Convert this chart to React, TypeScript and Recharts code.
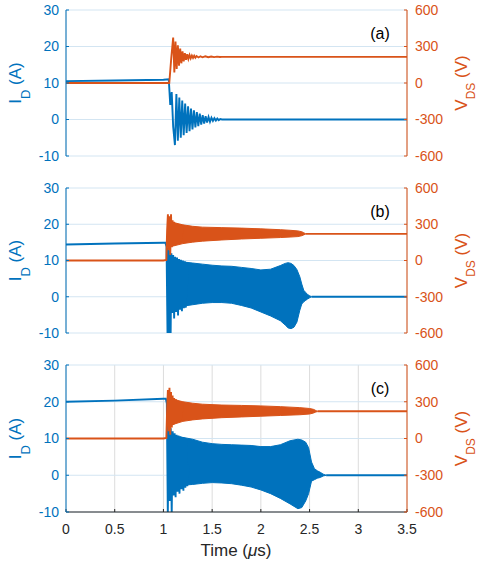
import React from 'react';
import { ComposedChart, Line, Area, XAxis, YAxis, CartesianGrid } from 'recharts';

const BLUE = '#0072BD';
const ORANGE = '#D95319';
const AXIS = '#262626';
const FONT = '"Liberation Sans", Arial, Helvetica, sans-serif';

const timeTicks = [0, 0.5, 1, 1.5, 2, 2.5, 3, 3.5];
const currentTicks = [-10, 0, 10, 20, 30];
const voltageTicks = [-600, -300, 0, 300, 600];

// (a) drain current, A
const aCurT = [0, 0.5, 1.0, 1.055, 1.07, 1.085, 1.10, 1.118, 1.133, 1.148, 1.163, 1.178, 1.193, 1.208, 1.223, 1.238, 1.253, 1.268, 1.283, 1.298, 1.313, 1.328, 1.343, 1.358, 1.373, 1.388, 1.403, 1.418, 1.433, 1.448, 1.463, 1.478, 1.493, 1.508, 1.523, 1.538, 1.553, 1.568, 1.583, 1.6, 3.5];
const aCurV = [10.5, 10.7, 10.9, 11.0, 4.0, 7.5, -2.0, -7.0, 7.0, -5.8, 6.0, -5.0, 5.2, -4.3, 4.4, -3.7, 3.6, -3.2, 3.0, -2.7, 2.5, -2.2, 2.0, -1.8, 1.6, -1.4, 1.2, -1.1, 0.9, -0.8, 0.7, -0.6, 0.5, -0.4, 0.35, -0.3, 0.25, -0.2, 0.15, 0, 0];
// (a) drain-source voltage, V
const aVoltT = [0, 1.06, 1.08, 1.10, 1.112, 1.124, 1.136, 1.148, 1.160, 1.172, 1.184, 1.196, 1.208, 1.220, 1.232, 1.244, 1.256, 1.268, 1.28, 1.292, 1.304, 1.316, 1.328, 1.34, 1.36, 1.38, 1.40, 1.43, 1.46, 1.49, 1.52, 1.55, 1.58, 1.6, 3.5];
const aVoltV = [0, 0, 200, 373, 87, 340, 115, 310, 142, 282, 162, 260, 178, 245, 190, 236, 198, 230, 203, 226, 206, 224, 208, 222, 210, 220, 211, 219, 212, 218, 213, 217, 214, 215, 215];

// (b)
const bCurT = [0, 0.5, 1.0, 1.02, 1.032, 1.042, 1.05, 1.058, 1.066, 1.074, 1.082, 1.09, 1.1, 1.11, 1.12, 1.13, 1.14, 1.15, 1.16, 1.17, 1.18, 1.19, 1.2, 1.21, 1.22, 1.23, 1.24, 1.25];
const bCurV = [14.4, 14.7, 14.9, 14.9, 13.8, -10.5, 13.5, -10.5, 12.8, -10.5, 12.0, -4.5, 11.5, -6.0, 11.0, -4.2, 10.8, -5.2, 10.4, -3.6, 10.2, -4.0, 10.0, -3.2, 9.8, -3.0, 9.6, 3.0];
const bBandT = [1.04, 1.1, 1.2, 1.3, 1.4, 1.5, 1.6, 1.7, 1.8, 1.9, 2.0, 2.1, 2.2, 2.25, 2.28, 2.31, 2.34, 2.37, 2.40, 2.42, 2.44, 2.46, 2.48, 2.5, 2.52];
const bBandHi = [10.0, 10.0, 9.6, 9.3, 9.0, 8.7, 8.5, 8.4, 8.1, 7.8, 7.4, 7.6, 8.6, 9.2, 9.4, 9.2, 8.6, 7.5, 5.5, 3.5, 1.8, 1.2, 0.6, 0.3, 0];
const bBandLo = [-2.5, -2.8, -2.6, -2.2, -1.8, -1.6, -1.6, -1.8, -2.4, -3.1, -4.2, -5.3, -6.6, -7.8, -8.6, -8.8, -8.4, -7.0, -3.7, -2.0, -1.4, -1.0, -0.6, -0.3, 0];
const bTailT = [2.52, 3.5];
const bTailV = [0, 0];
const bVoltT = [0, 1.0, 1.03, 1.038, 1.046, 1.054, 1.062, 1.07, 1.078, 1.086, 1.094, 1.102, 1.11, 1.12, 1.13, 1.14, 1.15, 1.16, 1.17, 1.18, 1.19, 1.2];
const bVoltV = [0, 0, 5, 250, 382, 85, 366, 45, 382, 110, 333, 120, 320, 135, 305, 140, 300, 150, 295, 155, 290, 220];
const bVBandT = [1.05, 1.1, 1.2, 1.3, 1.4, 1.6, 1.8, 2.0, 2.2, 2.3, 2.38, 2.42, 2.44, 2.46];
const bVBandHi = [330, 315, 295, 283, 276, 272, 268, 262, 255, 250, 245, 238, 230, 221];
const bVBandLo = [110, 120, 140, 152, 160, 170, 178, 184, 190, 194, 198, 205, 212, 219];
const bVTailT = [2.46, 3.5];
const bVTailV = [220, 220];

// (c)
const cCurT = [0, 0.5, 1.0, 1.025, 1.035, 1.045, 1.055, 1.065, 1.075, 1.085, 1.095, 1.105, 1.115, 1.125, 1.135, 1.145, 1.155, 1.165, 1.175, 1.185, 1.195, 1.205, 1.215, 1.225, 1.235, 1.245, 1.26];
const cCurV = [20.0, 20.3, 20.8, 20.8, 19.5, -10.5, 14.5, -7.0, 12.8, -10.5, 12.0, -5.5, 11.4, -6.0, 11.0, -4.5, 10.8, -5.0, 10.6, -3.8, 10.4, -4.2, 10.2, -3.4, 10.0, -3.0, 3.0];
const cBandT = [1.04, 1.1, 1.2, 1.3, 1.4, 1.5, 1.6, 1.7, 1.8, 1.9, 2.0, 2.1, 2.2, 2.3, 2.38, 2.42, 2.46, 2.49, 2.52, 2.55, 2.58, 2.61, 2.64, 2.67];
const cBandHi = [10.5, 10.5, 10.3, 9.8, 9.0, 8.6, 8.4, 8.3, 8.2, 8.1, 7.8, 7.8, 8.3, 9.4, 9.8, 9.6, 9.0, 7.5, 3.6, 1.8, 1.2, 0.8, 0.3, 0];
const cBandLo = [-2.5, -2.7, -2.7, -2.5, -2.2, -2.0, -2.1, -2.3, -2.7, -3.2, -4.0, -5.0, -6.3, -7.8, -9.1, -8.8, -7.0, -5.0, -1.6, -1.2, -0.8, -0.6, -0.2, 0];
const cTailT = [2.67, 3.5];
const cTailV = [0, 0];
const cVoltT = [0, 1.0, 1.03, 1.038, 1.046, 1.054, 1.062, 1.07, 1.078, 1.086, 1.094, 1.102, 1.11, 1.12, 1.13, 1.14, 1.15, 1.16, 1.17, 1.18, 1.19, 1.2];
const cVoltV = [0, 0, 5, 240, 395, 60, 414, 30, 380, 90, 350, 110, 330, 125, 320, 135, 305, 145, 300, 150, 295, 220];
const cVBandT = [1.05, 1.1, 1.2, 1.3, 1.4, 1.6, 1.8, 2.0, 2.2, 2.4, 2.5, 2.54, 2.56, 2.58];
const cVBandHi = [340, 320, 300, 288, 280, 273, 270, 266, 260, 252, 245, 238, 230, 222];
const cVBandLo = [100, 115, 140, 152, 160, 170, 176, 182, 188, 194, 200, 208, 215, 220];
const cVTailT = [2.58, 3.5];
const cVTailV = [222, 222];

const zip = (ts: number[], vs: number[]) => ts.map((t, i) => ({ t, v: vs[i] }));
const zipBand = (ts: number[], lo: number[], hi: number[]) => ts.map((t, i) => ({ t, r: [lo[i], hi[i]] }));

const panels = [
  {
    tag: '(a)', top: 10, plotH: 146,
    cur: zip(aCurT, aCurV), curBand: null, curTail: null,
    volt: zip(aVoltT, aVoltV), voltBand: null, voltTail: null,
  },
  {
    tag: '(b)', top: 188, plotH: 145,
    cur: zip(bCurT, bCurV), curBand: zipBand(bBandT, bBandLo, bBandHi), curTail: zip(bTailT, bTailV),
    volt: zip(bVoltT, bVoltV), voltBand: zipBand(bVBandT, bVBandLo, bVBandHi), voltTail: zip(bVTailT, bVTailV),
  },
  {
    tag: '(c)', top: 365, plotH: 147,
    cur: zip(cCurT, cCurV), curBand: zipBand(cBandT, cBandLo, cBandHi), curTail: zip(cTailT, cTailV),
    volt: zip(cVoltT, cVoltV), voltBand: zipBand(cVBandT, cVBandLo, cVBandHi), voltTail: zip(cVTailT, cVTailV),
  },
];

function Panel({ p, last }: { p: any; last: boolean }) {
  const mTop = 10;
  const axisH = last ? 32 : 0;
  const mBottom = last ? 0 : 10;
  const tickFont = { fontSize: 14, fontFamily: FONT };
  return (
    <div style={{ position: 'absolute', left: 0, top: p.top - mTop }}>
      <ComposedChart
        width={478}
        height={mTop + p.plotH + axisH + mBottom}
        margin={{ top: mTop, right: 0, bottom: mBottom, left: 0 }}
      >
        <CartesianGrid xAxisId="x" yAxisId="L" horizontal={false} stroke="#dcdcdc" />
        <CartesianGrid xAxisId="x" yAxisId="L" vertical={false} stroke="#d3e5f2" />
        <XAxis
          xAxisId="x"
          dataKey="t"
          type="number"
          domain={[0, 3.5]}
          ticks={timeTicks}
          allowDataOverflow
          height={axisH}
          stroke={AXIS}
          tickSize={-3}
          tickMargin={15}
          tick={last ? { ...tickFont, fill: AXIS } : false}
          tickLine={{ stroke: AXIS }}
          axisLine={{ stroke: AXIS }}
        />
        <XAxis
          xAxisId="top"
          orientation="top"
          type="number"
          domain={[0, 3.5]}
          ticks={timeTicks}
          height={0}
          tickSize={-3}
          tickFormatter={() => ''}
          tickLine={{ stroke: AXIS }}
          axisLine={{ stroke: AXIS }}
        />
        <YAxis
          yAxisId="L"
          type="number"
          domain={[-10, 30]}
          ticks={currentTicks}
          allowDataOverflow
          width={66}
          tickSize={-3}
          tickMargin={10}
          tick={{ ...tickFont, fill: BLUE }}
          tickLine={{ stroke: BLUE }}
          axisLine={{ stroke: BLUE }}
        />
        <YAxis
          yAxisId="R"
          orientation="right"
          type="number"
          domain={[-600, 600]}
          ticks={voltageTicks}
          allowDataOverflow
          width={71}
          tickSize={-3}
          tickMargin={11}
          tick={{ ...tickFont, fill: ORANGE }}
          tickLine={{ stroke: ORANGE }}
          axisLine={{ stroke: ORANGE }}
        />
        {p.curBand && (
          <Area xAxisId="x" yAxisId="L" data={p.curBand} dataKey="r" type="linear"
            stroke={BLUE} strokeWidth={1} fill={BLUE} fillOpacity={1} isAnimationActive={false} />
        )}
        <Line xAxisId="x" yAxisId="L" data={p.cur} dataKey="v" type="linear"
          stroke={BLUE} strokeWidth={1.9} dot={false} isAnimationActive={false} />
        {p.curTail && (
          <Line xAxisId="x" yAxisId="L" data={p.curTail} dataKey="v" type="linear"
            stroke={BLUE} strokeWidth={1.9} dot={false} isAnimationActive={false} />
        )}
        {p.voltBand && (
          <Area xAxisId="x" yAxisId="R" data={p.voltBand} dataKey="r" type="linear"
            stroke={ORANGE} strokeWidth={1} fill={ORANGE} fillOpacity={1} isAnimationActive={false} />
        )}
        <Line xAxisId="x" yAxisId="R" data={p.volt} dataKey="v" type="linear"
          stroke={ORANGE} strokeWidth={1.9} dot={false} isAnimationActive={false} />
        {p.voltTail && (
          <Line xAxisId="x" yAxisId="R" data={p.voltTail} dataKey="v" type="linear"
            stroke={ORANGE} strokeWidth={1.9} dot={false} isAnimationActive={false} />
        )}
      </ComposedChart>
    </div>
  );
}

export default function App() {
  return (
    <div style={{ position: 'absolute', left: 0, top: 0, width: 478, height: 565, background: '#fff', fontFamily: FONT }}>
      {panels.map((p, i) => (
        <Panel key={p.tag} p={p} last={i === panels.length - 1} />
      ))}
      <svg width={478} height={565} style={{ position: 'absolute', left: 0, top: 0, pointerEvents: 'none' }} fontFamily={FONT}>
        {panels.map((p) => {
          const cy = p.top + p.plotH / 2;
          return (
            <g key={p.tag}>
              <text transform={`translate(21, ${cy}) rotate(-90)`} textAnchor="middle" fill={BLUE} fontSize={17}>
                I<tspan dy={9} fontSize={13}>D</tspan><tspan dy={-9}> (A)</tspan>
              </text>
              <text transform={`translate(467, ${cy}) rotate(-90)`} textAnchor="middle" fill={ORANGE} fontSize={17}>
                V<tspan dy={8} fontSize={12}>DS</tspan><tspan dy={-8}> (V)</tspan>
              </text>
              <text x={380} y={p.top + 29} textAnchor="middle" fontSize={16} fill="#000">{p.tag}</text>
            </g>
          );
        })}
        <text x={236} y={556} textAnchor="middle" fontSize={17} fill={AXIS}>
          Time (<tspan fontStyle="italic">μ</tspan>s)
        </text>
      </svg>
    </div>
  );
}
